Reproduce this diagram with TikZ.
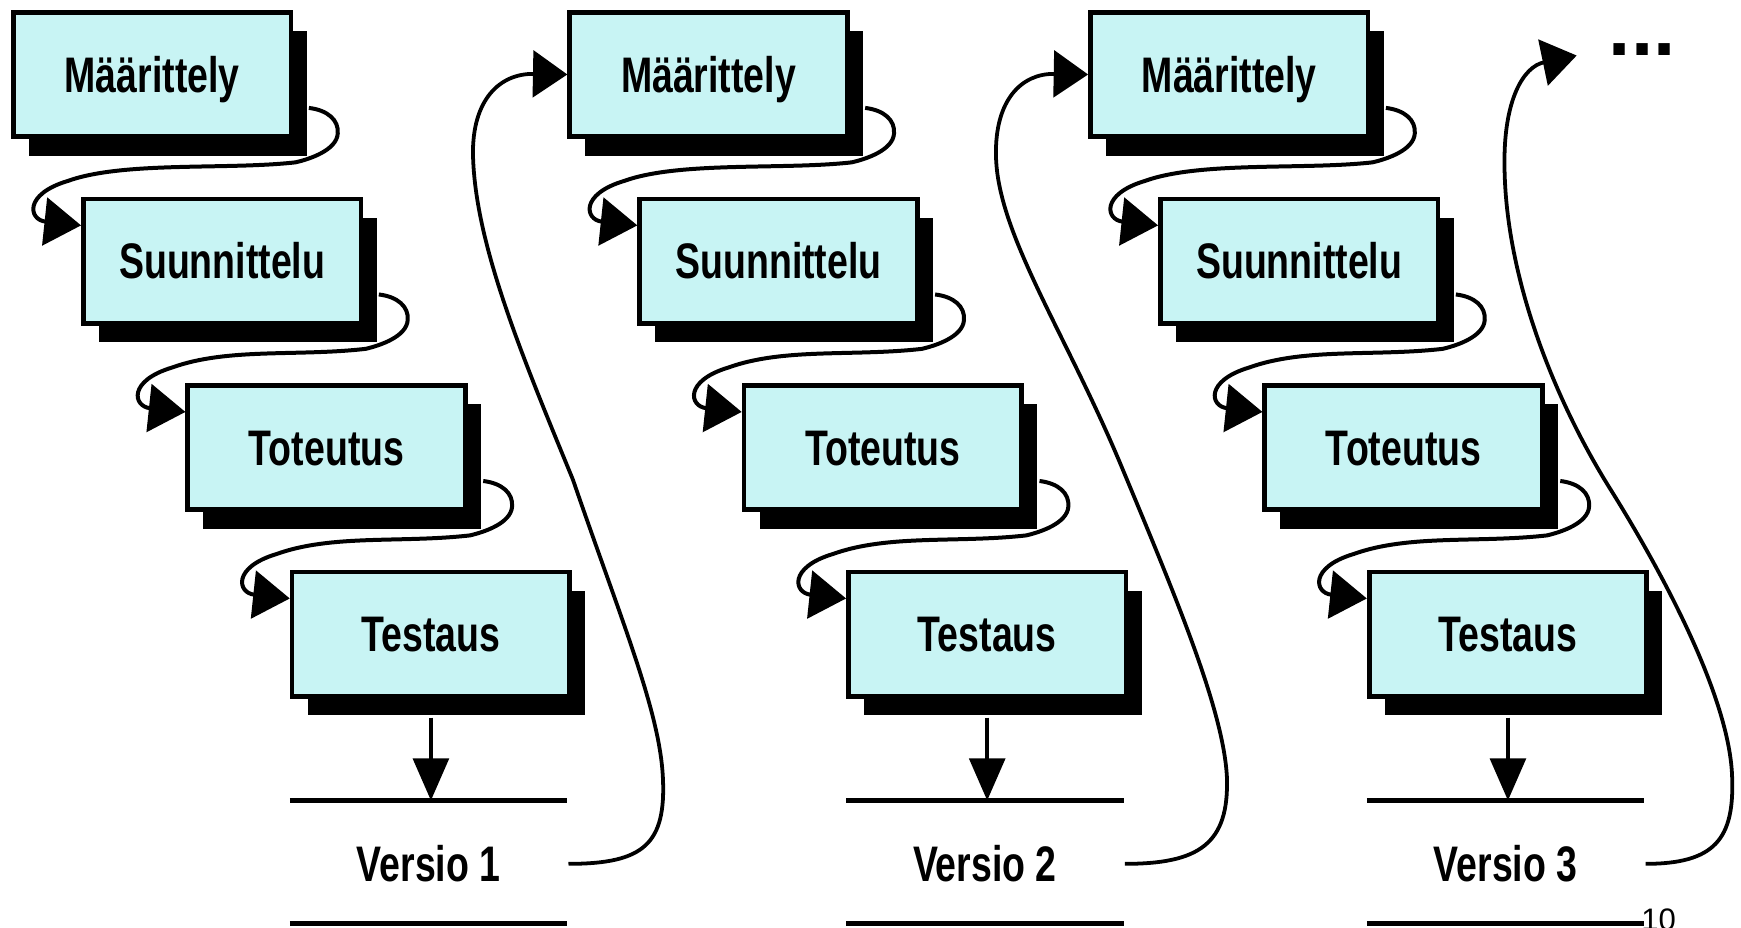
\documentclass[tikz,border=0pt]{standalone}
\usepackage{fontspec}
\setmainfont{Liberation Sans}
\newfontfamily\narrowfont{Liberation Sans}[FakeStretch=0.75]
\newfontfamily\plainfont{Liberation Sans}
\usetikzlibrary{arrows.meta,shadows}
\definecolor{boxfill}{RGB}{200,244,244}
\tikzset{
  box/.style={draw=black, line width=4.2pt, fill=boxfill,
    minimum width=250pt, minimum height=112pt, inner sep=0pt, anchor=north west,
    font=\narrowfont\bfseries\fontsize{45}{50}\selectfont,
    text height=32pt, text depth=0pt,
    drop shadow={shadow xshift=14pt, shadow yshift=-17pt, fill=black, opacity=1}},
  ver/.style={inner sep=0pt, font=\narrowfont\bfseries\fontsize{45}{50}\selectfont,
    text height=32pt, text depth=0pt},
  conn/.style={line width=3.6pt, -{Triangle[length=33pt,width=43pt]}},
  back/.style={line width=3.4pt, -{Triangle[length=31pt,width=42pt]}},
  down/.style={line width=4pt, -{Triangle[length=38pt,width=32pt]}},
  rule/.style={line width=4.5pt},
}
\newcommand\steplink[2]{%
  \draw[conn] ([shift={(14,-28)}]#1.south east)
    .. controls +(17,2) and +(1,-12) .. ([shift={(40,-5)}]#1.south east)
    .. controls +(-1,15) and +(13,-3) .. ([shift={(2,21)}]#1.south east)
    .. controls +(-62,7) and +(50,-18) .. ([shift={(-12,-14)}]#2.north west)
    .. controls +(-40,12) and +(-47,-5) .. ([shift={(0,26)}]#2.north west);
}
\begin{document}
\begin{tikzpicture}[x=1pt,y=-1pt]
\useasboundingbox (0,0) rectangle (1568,835);
\foreach \c/\dx in {1/0,2/501,3/970}{
  \node[box] (m\c) at (10+\dx,9) {Määrittely};
  \node[box] (s\c) at (73+\dx,177) {Suunnittelu};
  \node[box] (t\c) at (167+\dx,345) {Toteutus};
  \node[box] (e\c) at (261+\dx,513) {Testaus};
  \steplink{m\c}{s\c}
  \steplink{s\c}{t\c}
  \steplink{t\c}{e\c}
  \coordinate (la\c) at (261+\dx,721);
  \coordinate (lb\c) at (511+\dx,721);
  \coordinate (ua\c) at (261+\dx,832);
  \coordinate (ub\c) at (511+\dx,832);
  \draw[rule] (la\c) -- (lb\c);
  \draw[rule] (ua\c) -- (ub\c);
  \draw[down] ([yshift=-17pt]e\c.south) -- (e\c.south |- la\c);
  \node[ver] (v\c) at (386+\dx,778) {Versio \c};
  \coordinate (r\c) at (512+\dx,778);
}
\node[font=\plainfont\bfseries\fontsize{72}{80}\selectfont, inner sep=0pt, anchor=base] (more) at (1479,50) {...};
\coordinate (nx) at (1420,50);
\node[font=\plainfont\fontsize{28}{30}\selectfont, inner sep=0pt, anchor=base west] (pg) at (1478,838) {10};
\draw[back] (r1) .. controls (580,778) and (600,760) .. (597,700)
  .. controls (594,640) and (560,560) .. (516,432)
  .. controls (470,320) and (428,220) .. (426,140)
  .. controls (425,90) and (450,66) .. (m2.west);
\draw[back] (r2) .. controls (1080,778) and (1107,760) .. (1105,700)
  .. controls (1102,640) and (1060,540) .. (1010,420)
  .. controls (960,300) and (898,210) .. (897,140)
  .. controls (896,90) and (920,66) .. (m3.west);
\draw[back] (r3) .. controls (1545,778) and (1562,755) .. (1560,700)
  .. controls (1558,630) and (1500,520) .. (1450,440)
  .. controls (1400,360) and (1356,250) .. (1355,150)
  .. controls (1354,90) and (1372,60) .. (nx);
\end{tikzpicture}
\end{document}
